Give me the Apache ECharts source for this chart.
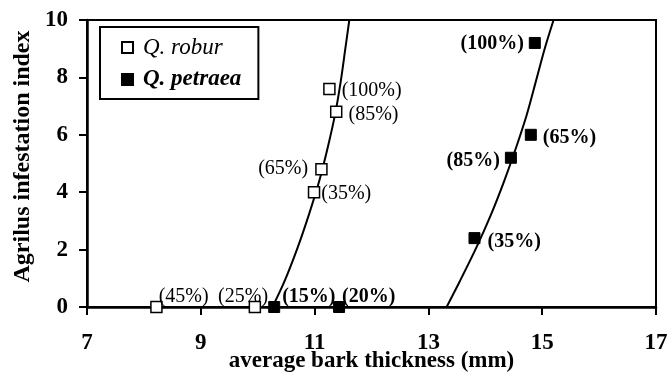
<!DOCTYPE html>
<html>
<head>
<meta charset="utf-8">
<script src="https://cdn.jsdelivr.net/npm/echarts@6/dist/echarts.min.js"></script>
<style>
html,body{margin:0;padding:0;background:#fff;}
#chart{width:668px;height:372px;}
</style>
</head>
<body>
<div id="chart"></div>
<script>
// ---- data ----
const roburX = [8.22, 9.95, 10.99, 11.12, 11.26, 11.38];
const roburY = [0, 0, 4.0, 4.8, 7.6, 6.8];
const roburLabels = ['(45%)', '(25%)', '(35%)', '(65%)', '(100%)', '(85%)'];

const petraeaX = [10.29, 11.43, 13.81, 14.45, 14.80, 14.87];
const petraeaY = [0, 0, 2.4, 5.2, 6.0, 9.2];
const petraeaLabels = ['(15%)', '(20%)', '(35%)', '(85%)', '(65%)', '(100%)'];

// fitted curves, points
const roburCurveX = [10.26, 10.47, 10.70, 10.90, 11.08, 11.23, 11.36, 11.46, 11.54, 11.61];
const roburCurveY = [0, 0.89, 2.06, 3.22, 4.38, 5.55, 6.71, 7.87, 9.0, 10.0];
const petraeaCurveX = [13.32, 13.55, 13.84, 14.10, 14.33, 14.54, 14.73, 14.89, 15.05, 15.20];
const petraeaCurveY = [0, 0.89, 2.06, 3.22, 4.38, 5.55, 6.71, 7.87, 9.04, 10.0];

const xTicks = [7, 9, 11, 13, 15, 17];
const yTicks = [0, 2, 4, 6, 8, 10];

// ---- label layout (position side and pixel offsets) ----
const roburLabelPos = [
  ['right', [-4, -10]], ['right', [-43, -10]], ['right', [1, 2]],
  ['left', [-7, 0]], ['right', [6, 2]], ['right', [6, 3]]
];
const petraeaLabelPos = [
  ['right', [2, -10]], ['right', [-3, -10]], ['right', [7, 4]],
  ['left', [-5, 3]], ['right', [6, 3]], ['left', [-5, 1]]
];

const FONT = '"Liberation Serif", "Times New Roman", serif';

function pts(xs, ys, labels, pos, bold) {
  return xs.map((x, i) => ({
    value: [x, ys[i]],
    label: {
      show: true,
      formatter: labels[i],
      position: pos[i][0],
      distance: 0,
      offset: pos[i][1],
      color: '#000',
      opacity: 1,
      fontFamily: FONT,
      fontSize: 20,
      fontWeight: bold ? 'bold' : 'normal'
    }
  }));
}
function line(xs, ys) { return xs.map((x, i) => [x, ys[i]]); }

const chart = echarts.init(document.getElementById('chart'), null, {renderer: 'canvas'});
chart.setOption({
  animation: false,
  backgroundColor: '#fff',
  grid: {left: 87, right: 12, top: 20, bottom: 65, outerBoundsMode: 'none', containLabel: false,
         show: true, borderColor: '#000', borderWidth: 2, backgroundColor: 'transparent'},
  legend: {
    left: 100, top: 27, orient: 'vertical',
    data: ['Q. robur', 'Q. petraea'],
    borderColor: '#000', borderWidth: 2,
    padding: [9, 17, 8, 21],
    itemGap: 9, itemWidth: 11, itemHeight: 11,
    textStyle: {
      fontFamily: FONT, fontSize: 23, color: '#000', padding: [0, 0, 0, 5],
      rich: {
        r: {fontFamily: FONT, fontSize: 23, fontStyle: 'italic', color: '#000'},
        p: {fontFamily: FONT, fontSize: 23, fontStyle: 'italic', fontWeight: 'bold', color: '#000'}
      }
    },
    formatter: n => n === 'Q. robur' ? '{r|' + n + '}' : '{p|' + n + '}'
  },
  xAxis: {
    type: 'value', min: xTicks[0], max: xTicks[xTicks.length - 1], interval: 2,
    name: 'average bark thickness (mm)', nameLocation: 'middle', nameGap: 43, nameMoveOverlap: false,
    nameTextStyle: {fontFamily: FONT, fontSize: 23, fontWeight: 'bold', color: '#000'},
    axisLine: {show: true, lineStyle: {color: '#000', width: 2.5}},
    axisTick: {show: true, inside: false, length: 8, lineStyle: {color: '#000', width: 2}},
    axisLabel: {fontFamily: FONT, fontSize: 23, fontWeight: 'bold', color: '#000', margin: 25},
    splitLine: {show: false}
  },
  yAxis: {
    type: 'value', min: yTicks[0], max: yTicks[yTicks.length - 1], interval: 2,
    name: 'Agrilus infestation index', nameLocation: 'middle', nameGap: 52, nameMoveOverlap: false,
    nameTextStyle: {fontFamily: FONT, fontSize: 24, fontWeight: 'bold', color: '#000', padding: [0, 0, 0, 14]},
    axisLine: {show: true, lineStyle: {color: '#000', width: 2.5}},
    axisTick: {show: true, inside: false, length: 8, lineStyle: {color: '#000', width: 2}},
    axisLabel: {fontFamily: FONT, fontSize: 23, fontWeight: 'bold', color: '#000', margin: 19},
    splitLine: {show: false}
  },
  series: [
    {
      name: 'robur fit', type: 'line', data: line(roburCurveX, roburCurveY),
      smooth: 0.3, showSymbol: false, symbol: 'none', z: 1, clip: true,
      lineStyle: {color: '#000', width: 2}
    },
    {
      name: 'petraea fit', type: 'line', data: line(petraeaCurveX, petraeaCurveY),
      smooth: 0.3, showSymbol: false, symbol: 'none', z: 1, clip: true,
      lineStyle: {color: '#000', width: 2}
    },
    {
      name: 'Q. robur', type: 'scatter', symbol: 'rect', symbolSize: 11, clip: false, z: 3,
      itemStyle: {color: '#fff', borderColor: '#000', borderWidth: 1.5, opacity: 1},
      data: pts(roburX, roburY, roburLabels, roburLabelPos, false)
    },
    {
      name: 'Q. petraea', type: 'scatter', symbol: 'rect', symbolSize: 11, clip: false, z: 3,
      itemStyle: {color: '#000', borderColor: '#000', borderWidth: 1, opacity: 1},
      data: pts(petraeaX, petraeaY, petraeaLabels, petraeaLabelPos, true)
    }
  ]
});
</script>
</body>
</html>
